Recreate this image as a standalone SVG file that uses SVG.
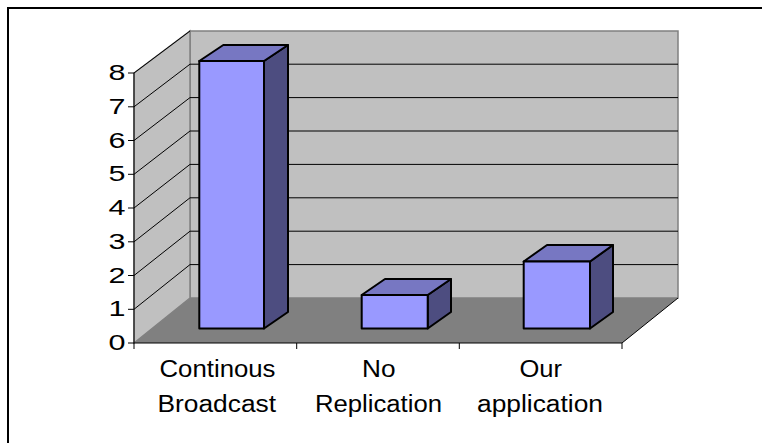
<svg xmlns="http://www.w3.org/2000/svg" width="762" height="443" viewBox="0 0 762 443">
  <style>
    .wall { fill: #C0C0C0; stroke: #808080; stroke-width: 1.5; }
    .floor { fill: #808080; stroke: none; }
    .grid { stroke: #000; stroke-width: 1; fill: none; }
    .axis { stroke: #000; stroke-width: 1; fill: none; }
    .front { fill: #9999FF; stroke: #000; stroke-width: 2; stroke-linejoin: round; }
    .top { fill: #7777C2; stroke: #000; stroke-width: 2; stroke-linejoin: round; }
    .side { fill: #4D4D80; stroke: #000; stroke-width: 2; stroke-linejoin: round; }
    .lbl { font-family: "Liberation Sans", Arial, sans-serif; font-size: 23.5px; fill: #000; }
    .num { font-family: "Liberation Sans", Arial, sans-serif; font-size: 21.5px; fill: #000; text-anchor: end; }
  </style>

  <!-- chart area frame -->
  <rect x="8" y="8" width="800" height="500" fill="#fff" stroke="#000" stroke-width="2"/>

  <!-- walls and floor -->
  <g id="walls">
    <polygon class="wall" points="190,31 678,31 678,298 190,298"/>
    <polygon class="wall" points="134,73 190,31 190,298 134,343"/>
    <polygon class="floor" points="134,343 190,298 678,298 622,343"/>
  </g>

  <!-- gridlines -->
  <g id="gridlines">
    <polyline class="grid" points="134,309.3 190,264.6 678,264.6"/>
    <polyline class="grid" points="134,275.5 190,231.2 678,231.2"/>
    <polyline class="grid" points="134,241.8 190,197.8 678,197.8"/>
    <polyline class="grid" points="134,208 190,164.4 678,164.4"/>
    <polyline class="grid" points="134,174.3 190,131 678,131"/>
    <polyline class="grid" points="134,140.5 190,97.6 678,97.6"/>
    <polyline class="grid" points="134,106.8 190,64.2 678,64.2"/>
    <line class="grid" x1="134" y1="73" x2="190" y2="31" stroke="#808080"/>
  </g>

  <!-- axes and ticks -->
  <g id="axes">
    <line class="axis" x1="134" y1="73" x2="134" y2="343"/>
    <line class="axis" x1="134" y1="343" x2="622" y2="343"/>
    <line class="axis" x1="622" y1="343" x2="678" y2="298"/>
    <path class="axis" d="M128,343H134 M128,309.3H134 M128,275.5H134 M128,241.8H134 M128,208H134 M128,174.3H134 M128,140.5H134 M128,106.8H134 M128,73H134"/>
    <path class="axis" d="M134,343V349 M296.7,343V349 M459.3,343V349 M622,343V349"/>
  </g>

  <!-- value labels -->
  <g id="y-labels">
    <text class="num" x="125.5" y="350" textLength="17" lengthAdjust="spacingAndGlyphs">0</text>
    <text class="num" x="125.5" y="316.3" textLength="17" lengthAdjust="spacingAndGlyphs">1</text>
    <text class="num" x="125.5" y="282.5" textLength="17" lengthAdjust="spacingAndGlyphs">2</text>
    <text class="num" x="125.5" y="248.8" textLength="17" lengthAdjust="spacingAndGlyphs">3</text>
    <text class="num" x="125.5" y="215" textLength="17" lengthAdjust="spacingAndGlyphs">4</text>
    <text class="num" x="125.5" y="181.3" textLength="17" lengthAdjust="spacingAndGlyphs">5</text>
    <text class="num" x="125.5" y="147.5" textLength="17" lengthAdjust="spacingAndGlyphs">6</text>
    <text class="num" x="125.5" y="113.8" textLength="17" lengthAdjust="spacingAndGlyphs">7</text>
    <text class="num" x="125.5" y="80" textLength="17" lengthAdjust="spacingAndGlyphs">8</text>
  </g>

  <!-- bars -->
  <g id="bar-continous-broadcast">
    <polygon class="side" points="264,328.5 288,312 288,45 264,61"/>
    <polygon class="top" points="199.3,61 264,61 288,45 223.3,45"/>
    <rect class="front" x="199.3" y="61" width="64.7" height="267.5"/>
  </g>
  <g id="bar-no-replication">
    <polygon class="side" points="427.7,328.5 451,312 451,279 427.7,295"/>
    <polygon class="top" points="361.7,295 427.7,295 451,279 385,279"/>
    <rect class="front" x="361.7" y="295" width="66" height="33.5"/>
  </g>
  <g id="bar-our-application">
    <polygon class="side" points="590,328.5 613,312 613,245 590,261.5"/>
    <polygon class="top" points="523.7,261.5 590,261.5 613,245 547,245"/>
    <rect class="front" x="523.7" y="261.5" width="66.3" height="67"/>
  </g>

  <!-- category labels -->
  <g id="x-labels">
    <text class="lbl" x="159.5" y="376.5" textLength="116" lengthAdjust="spacingAndGlyphs">Continous</text>
    <text class="lbl" x="157.5" y="411.5" textLength="118.5" lengthAdjust="spacingAndGlyphs">Broadcast</text>
    <text class="lbl" x="362" y="376.5" textLength="33.5" lengthAdjust="spacingAndGlyphs">No</text>
    <text class="lbl" x="315" y="411.5" textLength="127" lengthAdjust="spacingAndGlyphs">Replication</text>
    <text class="lbl" x="519.5" y="376.5" textLength="42.5" lengthAdjust="spacingAndGlyphs">Our</text>
    <text class="lbl" x="477" y="411.5" textLength="126" lengthAdjust="spacingAndGlyphs">application</text>
  </g>
</svg>
